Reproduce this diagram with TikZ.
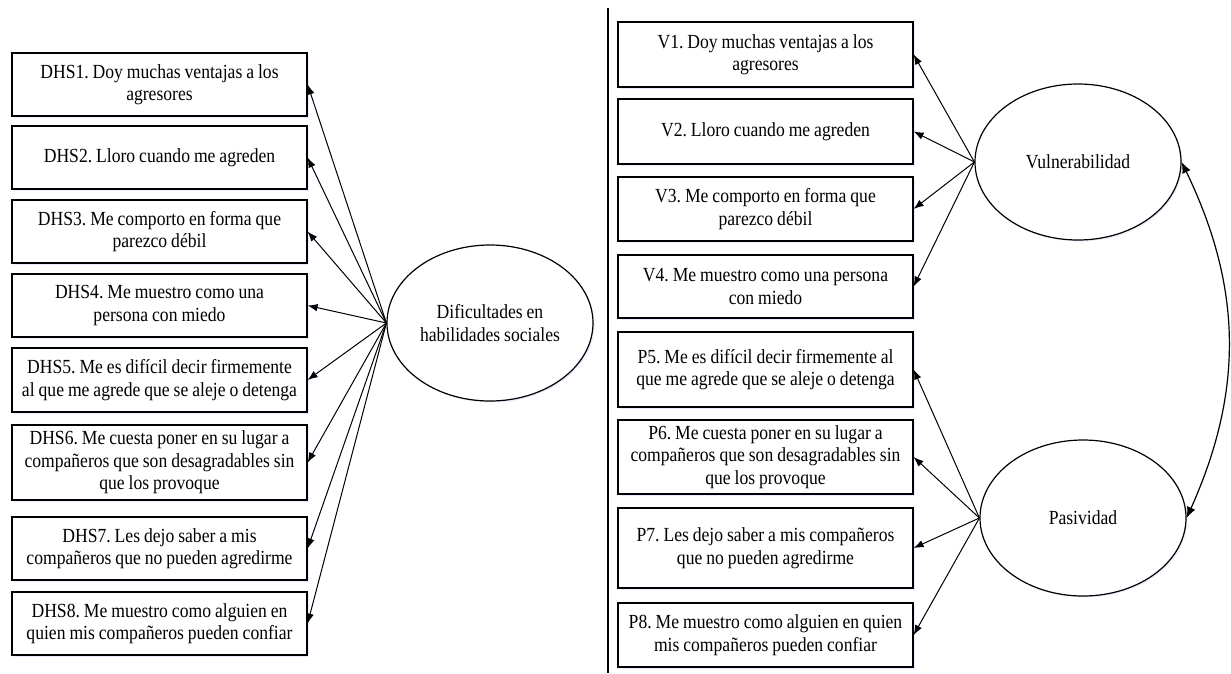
\documentclass[tikz,border=0pt]{standalone}
\usepackage{fontspec}
\setmainfont[FakeStretch=0.88,WordSpace=0.9]{Liberation Serif}
\usetikzlibrary{shapes.geometric,arrows.meta,shadows}
\frenchspacing

\begin{document}
\begin{tikzpicture}[x=1pt,y=-1pt,
		item/.style={draw,rectangle,line width=1.2pt,fill=white,minimum width=295pt,
			align=center,inner sep=0pt,
			font=\fontsize{20}{22.5}\selectfont,
			drop shadow={fill=blue!12,opacity=0.6,shadow xshift=1.5pt,shadow yshift=-1.5pt}},
		factor/.style={draw,ellipse,line width=1.2pt,fill=white,minimum width=206pt,
			minimum height=156pt,inner sep=0pt,align=center,
			font=\fontsize{20}{22.5}\selectfont,
			drop shadow={fill=blue!12,opacity=0.6,shadow xshift=1.5pt,shadow yshift=-1.5pt}},
		load/.style={line width=1pt,-{Latex[length=10pt,width=7.5pt]}}]
		\useasboundingbox (0,0) rectangle (1231,673);
		
		% left model
		\node[item,minimum height=63pt] (d1) at (159.5,84.5) {DHS1. Doy muchas ventajas a los\\agresores};
		\node[item,minimum height=63pt] (d2) at (159.5,157.5) {DHS2. Lloro cuando me agreden};
		\node[item,minimum height=63pt] (d3) at (159.5,231.5) {DHS3. Me comporto en forma que\\parezco débil};
		\node[item,minimum height=63pt] (d4) at (159.5,305.5) {DHS4. Me muestro como una\\persona con miedo};
		\node[item,minimum height=64pt] (d5) at (159.5,380) {DHS5. Me es difícil decir firmemente\\al que me agrede que se aleje o detenga};
		\node[item,minimum height=75pt] (d6) at (159.5,462.5) {DHS6. Me cuesta poner en su lugar a\\compañeros que son desagradables sin\\que los provoque};
		\node[item,minimum height=63pt] (d7) at (159.5,548.5) {DHS7. Les dejo saber a mis\\compañeros que no pueden agredirme};
		\node[item,minimum height=63pt] (d8) at (159.5,623.5) {DHS8. Me muestro como alguien en\\quien mis compañeros pueden confiar};
		
		\node[factor] (dhs) at (490,323) {Dificultades en\\habilidades sociales};
		
		\begin{scope}[load]
			\draw (dhs.west) to (d1.east);
			\draw (dhs.west) to (d2.east);
			\draw (dhs.west) to (d3.east);
			\draw (dhs.west) to (d4.east);
			\draw (dhs.west) to (d5.east);
			\draw (dhs.west) to (d6.east);
			\draw (dhs.west) to (d7.east);
			\draw (dhs.west) to (d8.east);
		\end{scope}
		
		% divider
		\coordinate (top) at (608,8);
		\coordinate (bottom) at (608,673);
		\draw[line width=1.8pt] (top) to (bottom);
		
		% right model
		\node[item,minimum height=65pt] (v1) at (765.5,54.5) {V1. Doy muchas ventajas a los\\agresores};
		\node[item,minimum height=65pt] (v2) at (765.5,131.5) {V2. Lloro cuando me agreden};
		\node[item,minimum height=64pt] (v3) at (765.5,209) {V3. Me comporto en forma que\\parezco débil};
		\node[item,minimum height=63pt] (v4) at (765.5,286.5) {V4. Me muestro como una persona\\con miedo};
		\node[item,minimum height=75pt] (p5) at (765.5,369.5) {P5. Me es difícil decir firmemente al\\que me agrede que se aleje o detenga};
		\node[item,minimum height=74pt] (p6) at (765.5,457) {P6. Me cuesta poner en su lugar a\\compañeros que son desagradables sin\\que los provoque};
		\node[item,minimum height=80pt] (p7) at (765.5,548) {P7. Les dejo saber a mis compañeros\\que no pueden agredirme};
		\node[item,minimum height=64pt] (p8) at (765.5,635) {P8. Me muestro como alguien en quien\\mis compañeros pueden confiar};
		
		\node[factor] (vul) at (1078,162) {Vulnerabilidad};
		\node[factor] (pas) at (1083,518) {Pasividad};
		
		\begin{scope}[load]
			\draw (vul.west) to (v1.east);
			\draw (vul.west) to (v2.east);
			\draw (vul.west) to (v3.east);
			\draw (vul.west) to (v4.east);
			\draw (pas.west) to (p5.east);
			\draw (pas.west) to (p6.east);
			\draw (pas.west) to (p7.east);
			\draw (pas.west) to (p8.east);
		\end{scope}
		
		\draw[line width=1.2pt,{Latex[length=11pt,width=9pt]}-{Latex[length=11pt,width=9pt]}]
			(vul.east) to[bend left=25] (pas.east);
	\end{tikzpicture}
\end{document}
